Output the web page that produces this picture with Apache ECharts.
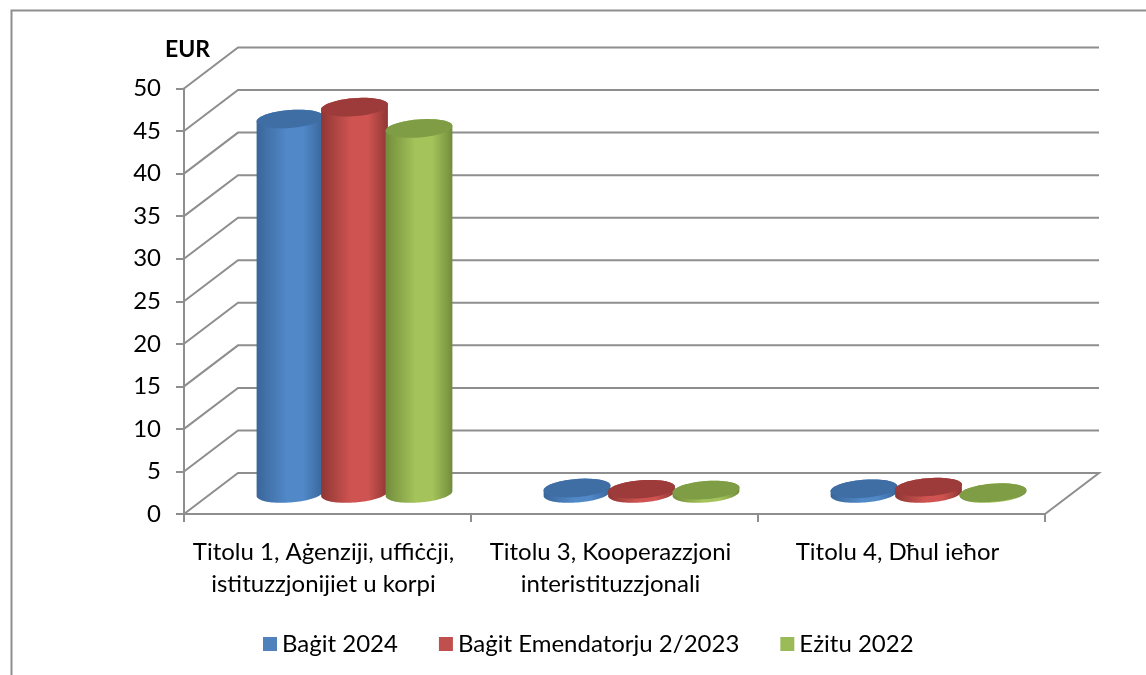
<!DOCTYPE html>
<html>
<head>
<meta charset="utf-8">
<style>
  html, body { margin: 0; padding: 0; background: #fff; }
  #chart { width: 1146px; height: 675px; }
</style>
<script src="https://cdn.jsdelivr.net/npm/echarts@6/dist/echarts.min.js"></script>
</head>
<body>
<div id="chart"></div>
<script>
var categories = ['Titolu 1, Aġenziji, uffiċċji,\nistituzzjonijiet u korpi', 'Titolu 3, Kooperazzjoni\ninteristituzzjonali', 'Titolu 4, Dħul ieħor'];
var seriesNames = ['Baġit 2024', 'Baġit Emendatorju 2/2023', 'Eżitu 2022'];
var budget2024 = [44, 0.65, 0.55];
var amending2023 = [45.4, 0.5, 0.75];
var outturn2022 = [42.9, 0.4, 0.1];
var yTicks = [0, 5, 10, 15, 20, 25, 30, 35, 40, 45, 50];

var FONT = 'Lato';
var GRID_COLOR = '#8e8e8e';
// depth of the fake 3d box
var DEPTH_X = 54;
var DEPTH_Y = 41;
var BAR_STEP = 64.5;
var RX = 33.5;
var RY = 9;
var TILT = -4.5 * Math.PI / 180;

var palette = [
  { legend: '#4f81bd', edge: '#3a6699', mid: '#5088c8', cap: '#3f6ea5' },
  { legend: '#c0504d', edge: '#8f3735', mid: '#cf5451', cap: '#9c3b39' },
  { legend: '#9bbb59', edge: '#728d3b', mid: '#a4c45b', cap: '#7f9d45' }
];

function ellipsePoint(cx, cy, t) {
  return [
    cx + RX * Math.cos(t) * Math.cos(TILT) - RY * Math.sin(t) * Math.sin(TILT),
    cy + RX * Math.cos(t) * Math.sin(TILT) + RY * Math.sin(t) * Math.cos(TILT)
  ];
}

function ellipsePoints(cx, cy, from, to) {
  var pts = [];
  for (var k = 0; k <= 48; k++) {
    pts.push(ellipsePoint(cx, cy, from + (to - from) * k / 48));
  }
  return pts;
}

function renderCylinder(idx) {
  return function (params, api) {
    var cat = api.value(0);
    var val = api.value(1);
    var cx = api.coord([cat, 0])[0] + DEPTH_X / 2 + (idx - 1) * BAR_STEP;
    var baseY = api.coord([cat, 0])[1] - DEPTH_Y / 2;
    var topY = api.coord([cat, val])[1] - DEPTH_Y / 2;
    var c = palette[idx];
    // top half of upper ellipse + lower half of base ellipse
    var body = ellipsePoints(cx, topY, Math.PI, 2 * Math.PI).concat(ellipsePoints(cx, baseY, 0, Math.PI));
    return {
      type: 'group',
      children: [
        {
          type: 'polygon',
          shape: { points: body },
          style: {
            fill: new echarts.graphic.LinearGradient(0, 0, 1, 0, [
              { offset: 0, color: c.edge },
              { offset: 0.45, color: c.mid },
              { offset: 0.7, color: c.mid },
              { offset: 1, color: c.edge }
            ])
          }
        },
        {
          type: 'polygon',
          shape: { points: ellipsePoints(cx, topY, 0, 2 * Math.PI) },
          style: { fill: c.cap }
        }
      ]
    };
  };
}

function renderWall(params, api) {
  var sys = params.coordSys;
  var y = api.coord([0, api.value(0)])[1];
  var style = { stroke: GRID_COLOR, lineWidth: 2, fill: 'none' };
  var pts = [[sys.x, y], [sys.x + DEPTH_X, y - DEPTH_Y], [sys.x + sys.width + DEPTH_X, y - DEPTH_Y]];
  if (api.value(0) === 0) {
    // floor closes back to the front right corner
    pts.push([sys.x + sys.width, y]);
  }
  return { type: 'polyline', shape: { points: pts }, style: style };
}

var allValues = [budget2024, amending2023, outturn2022];
var series = [{
  name: 'walls',
  type: 'custom',
  silent: true,
  clip: false,
  z: 1,
  renderItem: renderWall,
  encode: { y: 0 },
  data: yTicks.map(function (v) { return [v]; })
}];
allValues.forEach(function (vals, i) {
  series.push({
    name: seriesNames[i],
    type: 'custom',
    clip: false,
    z: 3 + i,
    itemStyle: { color: palette[i].legend },
    renderItem: renderCylinder(i),
    encode: { x: 0, y: 1 },
    data: vals.map(function (v, j) { return [j, v]; })
  });
});

var chart = echarts.init(document.getElementById('chart'));
chart.setOption({
  animation: false,
  backgroundColor: '#fff',
  textStyle: { fontFamily: FONT, color: '#000' },
  graphic: [{
    type: 'polyline',
    silent: true,
    shape: { points: [[11.5, 675], [11.5, 10.5], [1146, 10.5]] },
    style: { stroke: '#8e8e8e', lineWidth: 2, fill: 'none' }
  }],
  legend: {
    data: seriesNames,
    left: 258,
    top: 627,
    icon: 'rect',
    itemWidth: 14,
    itemHeight: 14,
    itemGap: 41,
    selectedMode: false,
    textStyle: { fontFamily: FONT, fontSize: 24, color: '#000' }
  },
  grid: { left: 184, right: 101, top: 88.5, height: 425.5, containLabel: false },
  xAxis: {
    type: 'category',
    data: categories,
    axisLine: { lineStyle: { color: GRID_COLOR, width: 2 } },
    axisTick: { show: true, length: 8, lineStyle: { color: GRID_COLOR, width: 2 } },
    axisLabel: { color: '#000', fontFamily: FONT, fontSize: 24, lineHeight: 32, margin: 22, padding: [0, 8, 0, 0], interval: 0 }
  },
  yAxis: {
    type: 'value',
    min: 0,
    max: 50,
    interval: 5,
    name: 'EUR',
    nameLocation: 'end',
    nameGap: 27,
    nameTextStyle: { color: '#000', fontFamily: FONT, fontSize: 23, fontWeight: 'bold', align: 'right', padding: [0, -26, 0, 0] },
    axisLine: { show: true, lineStyle: { color: GRID_COLOR, width: 2 } },
    axisTick: { show: true, length: 8, lineStyle: { color: GRID_COLOR, width: 2 } },
    axisLabel: { color: '#000', fontFamily: FONT, fontSize: 24, margin: 23, padding: [3, 0, 0, 0] },
    splitLine: { show: false }
  },
  series: series
});
</script>
</body>
</html>
